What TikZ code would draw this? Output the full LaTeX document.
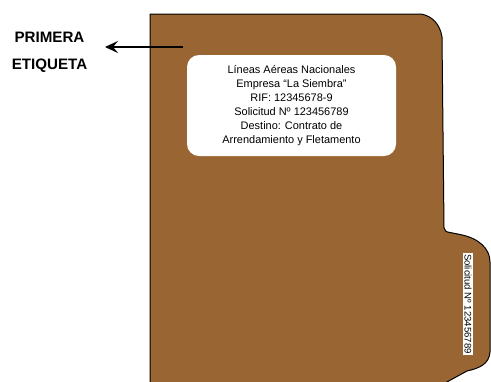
\documentclass[tikz,border=0pt]{standalone}
\usepackage{fontspec}
\setmainfont{Liberation Sans}
\usetikzlibrary{arrows.meta}
\definecolor{folder}{RGB}{153,102,51}
\tikzset{
  folderline/.style={draw=black, line width=1bp, fill=folder},
  labelbox/.style={fill=white, rounded corners=12bp, minimum width=209bp, minimum height=101bp, align=center, font=\fontsize{11}{14.2}\selectfont, inner sep=0pt},
  sidelabel/.style={fill=white, rotate=-90, font=\fontsize{9.6}{11}\selectfont, inner xsep=1bp, inner ysep=1.2bp},
  titlelabel/.style={align=center, font=\bfseries\fontsize{15.2}{27}\selectfont},
  pointer/.style={draw=black, line width=1.6bp, -{Stealth[length=13bp,width=12bp,inset=5bp]}}
}
\begin{document}
\begin{tikzpicture}[x=1bp,y=-1bp]
\useasboundingbox (0,0) rectangle (491,381);
\begin{scope}
\clip (0,0) rectangle (491,381);
\path[folderline] (150,390) -- (150,14) -- (421,14)
  .. controls (432,16) and (440,24) .. (442,37)
  -- (444,228)
  .. controls (445,231) and (446,232) .. (450,232.5)
  -- (460,234.5)
  .. controls (478,238) and (490,248) .. (490,262)
  -- (490,352)
  .. controls (489,364) and (480,368) .. (467,371)
  -- (445,383) -- (445,390) -- cycle;
\end{scope}
\node[labelbox] (main) at (291.5,105.5) {Líneas Aéreas Nacionales\\Empresa “La Siembra”\\RIF: 12345678-9\\Solicitud Nº 123456789\\Destino: Contrato de\\Arrendamiento y Fletamento};
\node[sidelabel] (side) at (468,304) {Solicitud Nº 123456789};
\node[titlelabel] (title) at (49.5,52) {PRIMERA\\ETIQUETA};
\coordinate (start) at (183,47);
\coordinate (tip) at (105,47);
\draw[pointer] (start) -- (tip);
\end{tikzpicture}
\end{document}
